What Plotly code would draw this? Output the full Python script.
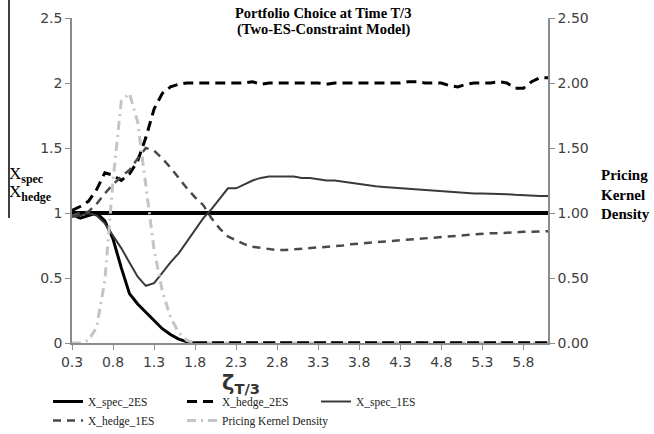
import plotly.graph_objects as go

# Grid of zeta_{T/3} values
zeta = [round(0.3 + 0.1 * i, 1) for i in range(59)]  # 0.3 .. 6.1

x_spec_2es = [0.99, 0.96, 0.98, 1.00, 0.94, 0.80, 0.58, 0.38, 0.30, 0.235,
              0.17, 0.11, 0.065, 0.03, 0.01, 0.0] + [0.0] * 43

x_hedge_2es = [1.02, 1.05, 1.09, 1.18, 1.31, 1.29, 1.25, 1.30, 1.40, 1.58,
               1.80, 1.92, 1.97, 1.99, 2.00, 2.00, 2.00, 2.00, 2.00, 2.00,
               2.00, 2.00, 2.01, 1.99, 2.00, 2.00, 2.00, 2.00, 2.00, 2.00,
               2.00, 1.99, 2.00, 2.00, 2.00, 2.00, 2.00, 2.00, 2.00, 2.00,
               2.00, 2.01, 2.01, 2.00, 2.00, 2.00, 1.98, 1.97, 1.99, 2.00,
               2.00, 2.00, 2.01, 2.00, 1.96, 1.96, 2.01, 2.04, 2.04]

x_spec_1es = [0.97, 0.98, 1.00, 0.98, 0.92, 0.83, 0.73, 0.62, 0.51, 0.44,
              0.46, 0.54, 0.62, 0.69, 0.78, 0.87, 0.96, 1.03, 1.11, 1.19,
              1.19, 1.22, 1.25, 1.27, 1.28, 1.28, 1.28, 1.28, 1.27, 1.27,
              1.26, 1.25, 1.25, 1.24, 1.23, 1.225, 1.215, 1.205, 1.20, 1.195,
              1.19, 1.185, 1.18, 1.175, 1.17, 1.165, 1.165, 1.16, 1.155, 1.15,
              1.15, 1.15, 1.15, 1.145, 1.14, 1.135, 1.13, 1.13, 1.13]

x_hedge_1es = [0.98, 1.00, 1.01, 1.07, 1.15, 1.22, 1.28, 1.33, 1.42, 1.50,
               1.48, 1.42, 1.35, 1.27, 1.19, 1.12, 1.06, 0.96, 0.88, 0.82,
               0.79, 0.76, 0.74, 0.73, 0.72, 0.715, 0.715, 0.72, 0.72, 0.725,
               0.73, 0.735, 0.74, 0.75, 0.76, 0.765, 0.77, 0.78, 0.785, 0.79,
               0.795, 0.80, 0.805, 0.81, 0.815, 0.82, 0.825, 0.83, 0.835, 0.84,
               0.84, 0.845, 0.845, 0.85, 0.85, 0.855, 0.855, 0.86, 0.86]

kernel_density = [0.0, 0.0, 0.02, 0.12, 0.48, 1.25, 1.86, 1.92, 1.70, 1.20,
                  0.72, 0.40, 0.20, 0.08, 0.02, 0.0] + [0.0] * 43

# Reference level drawn across the whole range
parity_x = [0.3, 6.1]
parity_y = [1.0, 1.0]

x_ticks = [0.3, 0.8, 1.3, 1.8, 2.3, 2.8, 3.3, 3.8, 4.3, 4.8, 5.3, 5.8]
left_ticks = [0, 0.5, 1, 1.5, 2, 2.5]
left_ticktext = ["0", "0.5", "1", "1.5", "2", "2.5"]
right_ticks = [0, 0.5, 1, 1.5, 2, 2.5]

# split X_spec_2ES into the declining part and the flat zero tail
cut = zeta.index(1.8)

AXIS_GREY = "#8c8c8c"
TICK_FONT = dict(family="DejaVu Sans", size=14, color="#404040")

fig = go.Figure()

fig.add_trace(go.Scatter(x=parity_x, y=parity_y, mode="lines",
                         line=dict(color="black", width=4), showlegend=False,
                         hoverinfo="skip"))
fig.add_trace(go.Scatter(x=zeta[:cut + 1], y=x_spec_2es[:cut + 1], mode="lines",
                         name="X_spec_2ES", legend="legend",
                         line=dict(color="black", width=3)))
fig.add_trace(go.Scatter(x=zeta, y=x_hedge_2es, mode="lines", name="X_hedge_2ES",
                         legend="legend",
                         line=dict(color="black", width=3, dash="10px,6px")))
fig.add_trace(go.Scatter(x=zeta, y=x_spec_1es, mode="lines", name="X_spec_1ES",
                         legend="legend",
                         line=dict(color="#3a3a3a", width=2)))
fig.add_trace(go.Scatter(x=zeta, y=x_hedge_1es, mode="lines", name="X_hedge_1ES",
                         legend="legend2",
                         line=dict(color="#4a4a4a", width=2.5, dash="8px,6px")))
fig.add_trace(go.Scatter(x=zeta, y=kernel_density, mode="lines",
                         name="Pricing Kernel Density", yaxis="y2", legend="legend3",
                         line=dict(color="#c4c4c4", width=3, dash="9px,5px,2px,5px")))
fig.add_trace(go.Scatter(x=zeta[cut:], y=x_spec_2es[cut:], mode="lines",
                         yaxis="y2", showlegend=False, hoverinfo="skip",
                         line=dict(color="black", width=3.5, dash="12px,5px")))

W, H = 654, 434
L, R, T, B = 72, 106, 18, 91
pw, ph = W - L - R, H - T - B


def px(xp):
    return (xp - L) / pw


def py(yp):
    return (H - B - yp) / ph


LEGEND_FONT = dict(family="Liberation Serif", size=11.5, color="#222222")

fig.update_layout(
    width=W, height=H,
    margin=dict(l=L, r=R, t=T, b=B, autoexpand=False),
    paper_bgcolor="white", plot_bgcolor="white",
    xaxis=dict(range=[0.3, 6.1], tickvals=x_ticks,
               ticktext=[f"{v:.1f}" for v in x_ticks],
               showgrid=False, zeroline=False, showline=True,
               linecolor=AXIS_GREY, linewidth=1.5, ticks="outside",
               ticklen=5, tickcolor=AXIS_GREY, tickfont=TICK_FONT),
    yaxis=dict(range=[0, 2.5], tickvals=left_ticks, ticktext=left_ticktext,
               showgrid=False, zeroline=False, showline=True,
               linecolor=AXIS_GREY, linewidth=1.5, ticks="outside",
               ticklen=5, tickcolor=AXIS_GREY, tickfont=TICK_FONT),
    yaxis2=dict(range=[0, 2.5], tickvals=right_ticks, tickformat=".2f",
                overlaying="y", side="right",
                showgrid=False, zeroline=False, showline=True,
                linecolor=AXIS_GREY, linewidth=1.5, ticks="outside",
                ticklen=5, tickcolor=AXIS_GREY, tickfont=TICK_FONT),
    showlegend=True,
    legend=dict(orientation="h", x=px(48), xanchor="left",
                y=py(387), yanchor="top", entrywidth=89,
                font=LEGEND_FONT, bgcolor="rgba(0,0,0,0)"),
    legend2=dict(orientation="h", x=px(48), xanchor="left",
                 y=py(406), yanchor="top",
                 font=LEGEND_FONT, bgcolor="rgba(0,0,0,0)"),
    legend3=dict(orientation="h", x=px(182), xanchor="left",
                 y=py(406), yanchor="top",
                 font=LEGEND_FONT, bgcolor="rgba(0,0,0,0)"),
    annotations=[
        dict(text="<b>Portfolio Choice at Time T/3</b>",
             x=px(323), y=py(13), xref="paper", yref="paper",
             xanchor="center", yanchor="middle", showarrow=False,
             font=dict(family="Liberation Serif", size=14.5, color="black")),
        dict(text="<b>(Two-ES-Constraint Model)</b>",
             x=px(323), y=py(29), xref="paper", yref="paper",
             xanchor="center", yanchor="middle", showarrow=False,
             font=dict(family="Liberation Serif", size=14.5, color="black")),
        dict(text="<b>Pricing<br>Kernel<br>Density</b>", align="left",
             x=px(599), y=py(194), xref="paper", yref="paper",
             xanchor="left", yanchor="middle", showarrow=False,
             font=dict(family="Liberation Serif", size=15, color="black")),
        dict(text="X<sub><b>spec</b></sub>", x=px(7), y=py(175),
             xref="paper", yref="paper", xanchor="left", yanchor="middle",
             showarrow=False,
             font=dict(family="Liberation Serif", size=17, color="black")),
        dict(text="X<sub><b>hedge</b></sub>", x=px(7), y=py(193),
             xref="paper", yref="paper", xanchor="left", yanchor="middle",
             showarrow=False,
             font=dict(family="Liberation Serif", size=17, color="black")),
        dict(text="<b>ζ<sub>T/3</sub></b>", x=px(241), y=py(384),
             xref="paper", yref="paper", xanchor="center", yanchor="middle",
             showarrow=False,
             font=dict(family="DejaVu Sans", size=21, color="#333333")),
    ],
    shapes=[
        dict(type="line", xref="paper", yref="paper",
             x0=px(9), x1=px(9), y0=py(0), y1=py(218),
             line=dict(color="black", width=1.5)),
    ],
)

fig.write_html("out.html")
